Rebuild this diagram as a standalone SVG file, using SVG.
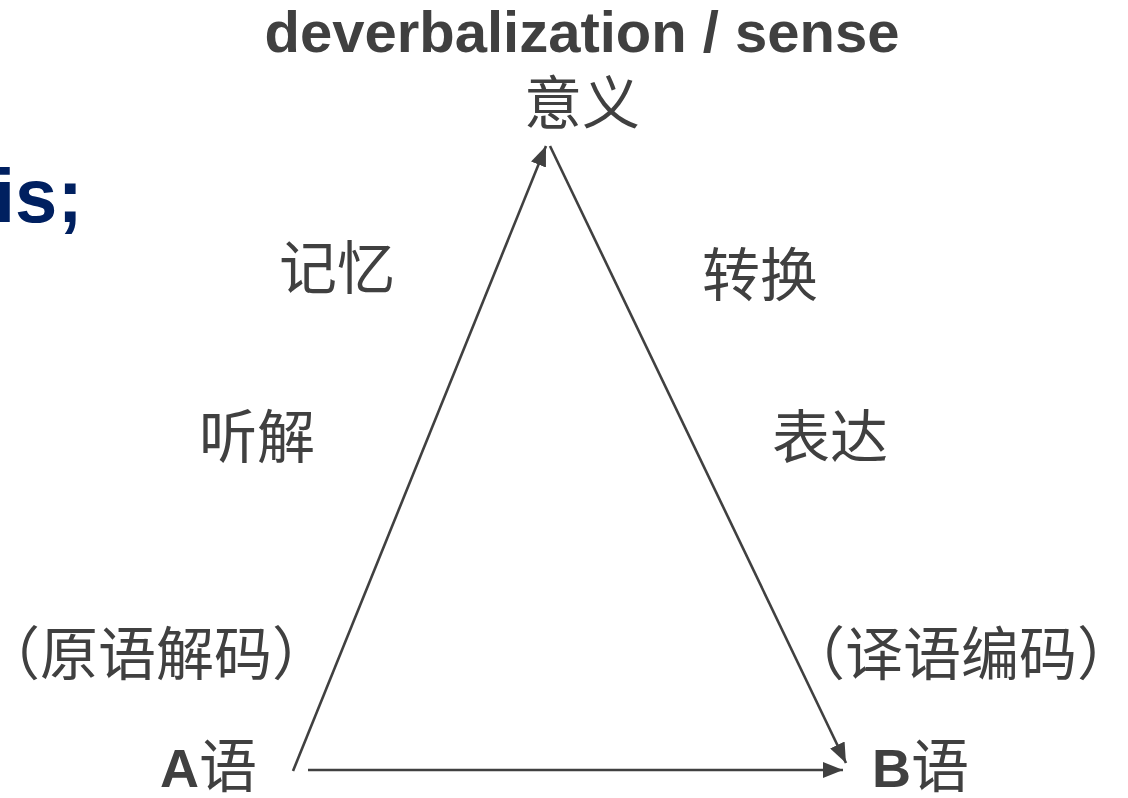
<svg xmlns="http://www.w3.org/2000/svg" width="1128" height="798" viewBox="0 0 1128 798">
<style>
.en{font-family:"Liberation Sans",Arial,sans-serif;font-weight:bold;fill:#404040}
.cn{font-family:"Noto Sans CJK SC",sans-serif;font-size:58px;fill:#404040}
.ln{stroke:#404040;stroke-width:2.6;fill:none}
</style>
<defs>
<marker id="ah" markerUnits="userSpaceOnUse" markerWidth="22" markerHeight="16" refX="20" refY="8" orient="auto">
<path d="M0,0 L20,8 L0,16 Z" fill="#404040"/>
</marker>
</defs>
<rect width="1128" height="798" fill="#ffffff"/>
<g id="title">
<text class="en" x="582" y="52" font-size="58" text-anchor="middle">deverbalization / sense</text>
</g>
<g id="heading-fragment">
<text x="-6" y="222" font-family="Liberation Sans,Arial,sans-serif" font-weight="bold" font-size="76" fill="#002060">is;</text>
</g>
<g id="node-sense">
<text class="cn" x="582" y="124" text-anchor="middle">意义</text>
</g>
<g id="label-memory">
<text class="cn" x="337" y="289" text-anchor="middle">记忆</text>
</g>
<g id="label-transfer">
<text class="cn" x="760" y="296" text-anchor="middle">转换</text>
</g>
<g id="label-comprehend">
<text class="cn" x="257" y="458" text-anchor="middle">听解</text>
</g>
<g id="label-express">
<text class="cn" x="830" y="458" text-anchor="middle">表达</text>
</g>
<g id="label-decode">
<text class="cn" x="-18" y="675">（原语解码）</text>
</g>
<g id="label-encode">
<text class="cn" x="787" y="675">（译语编码）</text>
</g>
<g id="node-a">
<text x="160" y="787"><tspan class="en" font-size="54">A</tspan><tspan class="cn">语</tspan></text>
</g>
<g id="node-b">
<text x="872" y="787"><tspan class="en" font-size="54">B</tspan><tspan class="cn">语</tspan></text>
</g>
<g id="connectors">
<line class="ln" x1="293" y1="771" x2="546" y2="146" marker-end="url(#ah)"/>
<line class="ln" x1="550" y1="146" x2="846" y2="763" marker-end="url(#ah)"/>
<line class="ln" x1="308" y1="770" x2="843" y2="770" marker-end="url(#ah)"/>
</g>
</svg>
